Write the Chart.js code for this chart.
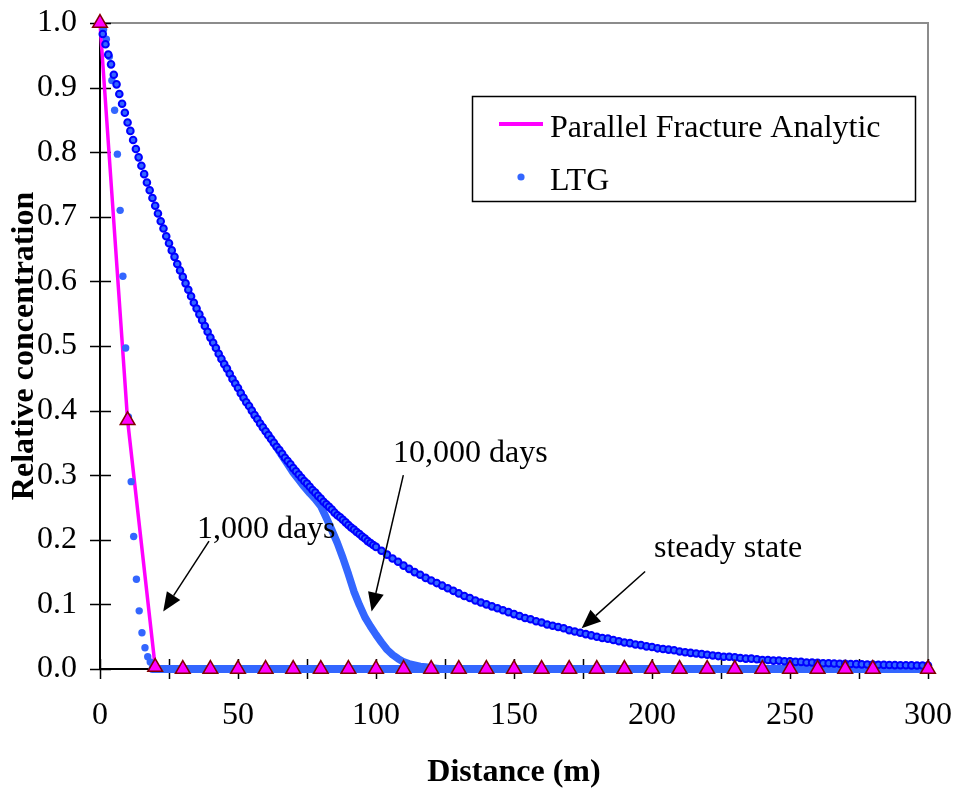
<!DOCTYPE html>
<html>
<head>
<meta charset="utf-8">
<script src="https://cdn.jsdelivr.net/npm/chart.js@4.4.1/dist/chart.umd.min.js"></script>
<style>
  html, body { margin: 0; padding: 0; background: #fff; }
  #grafico { display: block; }
</style>
</head>
<body>
<canvas id="grafico" width="957" height="793"></canvas>
<script>
/* DADOS */
// Parallel Fracture Analytic (triangles, 1,000 days)
const anaX = [0, 10, 20, 30, 40, 50, 60, 70, 80, 90, 100, 110, 120, 130, 140, 150,
  160, 170, 180, 190, 200, 210, 220, 230, 240, 250, 260, 270, 280, 300];
const anaY = [1.0, 0.385, 0.003, 0, 0, 0, 0, 0, 0, 0, 0, 0, 0, 0, 0, 0,
  0, 0, 0, 0, 0, 0, 0, 0, 0, 0, 0, 0, 0, 0];

// LTG, 1,000 days (front)
const ltg1kX = [0.3, 1.3, 2.3, 3.4, 4.3, 5.3, 6.3, 7.3, 8.3, 9.3, 10.3, 11.3, 12.2, 13.2, 14.2, 15.2, 16.3, 17.3, 18.2, 19.2];
const ltg1kY = [0.998, 0.99, 0.975, 0.948, 0.911, 0.865, 0.797, 0.710, 0.608, 0.497, 0.39, 0.29, 0.205, 0.139, 0.090, 0.056, 0.033, 0.019, 0.011, 0.005];

// LTG, concentration zero beyond the fronts
const zeroX = [19, 300];
const zeroY = [0, 0];

// LTG, 10,000 days
const ltg10kX = [60, 62, 64, 66, 68, 70, 72, 74, 76, 78, 80, 82, 84, 86, 88, 90, 92,
  94, 96, 98, 100, 102, 104, 106, 108, 110, 112, 114, 116, 118, 120, 122, 124];
const ltg10kY = [0.368, 0.356, 0.343, 0.330, 0.317, 0.304, 0.293, 0.282, 0.272, 0.263, 0.252, 0.234, 0.215, 0.195, 0.172, 0.147, 0.120,
  0.099, 0.080, 0.066, 0.053, 0.041, 0.030, 0.022, 0.016, 0.011, 0.008, 0.006, 0.004, 0.003, 0.002, 0.001, 0.0];

// LTG, steady state: every 1 m from 0 to 100 ...
const steadyNearY = [
  1.000, 0.983, 0.967, 0.951, 0.936, 0.920, 0.905, 0.890, 0.875, 0.861,
  0.846, 0.833, 0.819, 0.805, 0.792, 0.779, 0.766, 0.753, 0.741, 0.729,
  0.717, 0.705, 0.693, 0.682, 0.670, 0.659, 0.648, 0.638, 0.627, 0.617,
  0.607, 0.597, 0.587, 0.577, 0.567, 0.558, 0.549, 0.540, 0.531, 0.522,
  0.513, 0.505, 0.497, 0.488, 0.480, 0.472, 0.465, 0.457, 0.449, 0.442,
  0.435, 0.427, 0.420, 0.413, 0.407, 0.400, 0.393, 0.387, 0.380, 0.374,
  0.368, 0.362, 0.356, 0.350, 0.344, 0.339, 0.333, 0.327, 0.322, 0.317,
  0.311, 0.306, 0.301, 0.296, 0.291, 0.287, 0.282, 0.277, 0.273, 0.268,
  0.264, 0.259, 0.255, 0.251, 0.247, 0.242, 0.238, 0.235, 0.231, 0.227,
  0.223, 0.219, 0.216, 0.212, 0.209, 0.205, 0.202, 0.198, 0.195, 0.192,
  0.189
];
// ... and every 2 m from 102 to 300
const steadyFarY = [
  0.183, 0.177, 0.171, 0.166, 0.160, 0.155, 0.150, 0.146, 0.141,
  0.137, 0.133, 0.129, 0.125, 0.121, 0.117, 0.113, 0.110, 0.106, 0.103,
  0.100, 0.097, 0.094, 0.091, 0.088, 0.085, 0.082, 0.079, 0.077, 0.074,
  0.072, 0.069, 0.067, 0.065, 0.063, 0.060, 0.058, 0.056, 0.054, 0.052,
  0.050, 0.048, 0.047, 0.045, 0.043, 0.041, 0.040, 0.038, 0.037, 0.035,
  0.034, 0.032, 0.031, 0.030, 0.029, 0.027, 0.026, 0.025, 0.024, 0.023,
  0.022, 0.021, 0.020, 0.019, 0.019, 0.018, 0.017, 0.016, 0.016, 0.015,
  0.014, 0.014, 0.013, 0.013, 0.012, 0.012, 0.011, 0.011, 0.010, 0.010,
  0.0095, 0.0090, 0.0088, 0.0085, 0.0082, 0.0080, 0.0077, 0.0075, 0.0072, 0.0070,
  0.0068, 0.0066, 0.0064, 0.0062, 0.0060, 0.0058, 0.0057, 0.0056, 0.0055, 0.0054,
  0.0053
];
const steadyX = steadyNearY.map((_, i) => i).concat(steadyFarY.map((_, i) => 102 + i * 2));
const steadyY = steadyNearY.concat(steadyFarY);

// annotations (data coordinates)
const notas = [
  { text: "1,000 days", x: 35.1, y: 0.203 },
  { text: "10,000 days", x: 106.2, y: 0.320 },
  { text: "steady state", x: 200.7, y: 0.173 }
];
const setas = [
  { from: [39.5, 0.198], to: [22.9, 0.089] },
  { from: [109.9, 0.300], to: [98.4, 0.089] },
  { from: [197.5, 0.151], to: [174.5, 0.063] }
];

const pares = (xs, ys) => xs.map((x, i) => ({ x: x, y: ys[i] }));

const SERIF = "'Liberation Serif', 'Times New Roman', serif";
Chart.defaults.font.family = SERIF;
Chart.defaults.font.size = 32;
Chart.defaults.color = "#000";

/* EXTRAS: eixos, setas, legenda */
const extras = {
  id: "extras",
  beforeDatasetsDraw(chart) {
    const { ctx, chartArea: a, scales: { x, y } } = chart;
    ctx.save();
    ctx.lineCap = "butt";
    ctx.strokeStyle = "#8c8c8c";
    ctx.lineWidth = 2;
    ctx.beginPath();
    ctx.moveTo(a.left, a.top); ctx.lineTo(a.right, a.top); ctx.lineTo(a.right, a.bottom);
    ctx.stroke();
    ctx.strokeStyle = "#000";
    ctx.beginPath();
    ctx.moveTo(a.left, a.top); ctx.lineTo(a.left, a.bottom); ctx.lineTo(a.right, a.bottom);
    ctx.stroke();
    ctx.lineWidth = 1.5;
    ctx.beginPath();
    y.ticks.forEach(t => {
      const p = Math.round(y.getPixelForValue(t.value)) + 0.5;
      ctx.moveTo(a.left - 10, p); ctx.lineTo(a.left + 11, p);
    });
    x.ticks.forEach(t => {
      const p = Math.round(x.getPixelForValue(t.value)) + 0.5;
      ctx.moveTo(p, a.bottom - 10); ctx.lineTo(p, a.bottom + 10);
    });
    ctx.stroke();
    ctx.restore();
  },
  afterDraw(chart) {
    const { ctx, scales: { x, y } } = chart;
    ctx.save();
    // setas
    ctx.strokeStyle = "#000";
    ctx.fillStyle = "#000";
    ctx.lineWidth = 1.5;
    setas.forEach(s => {
      const x0 = x.getPixelForValue(s.from[0]), y0 = y.getPixelForValue(s.from[1]);
      const x1 = x.getPixelForValue(s.to[0]), y1 = y.getPixelForValue(s.to[1]);
      const ang = Math.atan2(y1 - y0, x1 - x0);
      const len = 19, half = 8;
      const bx = x1 - Math.cos(ang) * len, by = y1 - Math.sin(ang) * len;
      ctx.beginPath();
      ctx.moveTo(x0, y0); ctx.lineTo(bx, by);
      ctx.stroke();
      ctx.beginPath();
      ctx.moveTo(x1, y1);
      ctx.lineTo(bx + Math.sin(ang) * half, by - Math.cos(ang) * half);
      ctx.lineTo(bx - Math.sin(ang) * half, by + Math.cos(ang) * half);
      ctx.closePath();
      ctx.fill();
    });
    // textos
    ctx.font = "32px " + SERIF;
    ctx.textBaseline = "alphabetic";
    ctx.textAlign = "left";
    notas.forEach(n => {
      ctx.fillText(n.text, x.getPixelForValue(n.x), y.getPixelForValue(n.y));
    });
    // legenda
    ctx.fillStyle = "#fff";
    ctx.fillRect(472.5, 96.5, 443, 105);
    ctx.strokeStyle = "#000";
    ctx.lineWidth = 1.5;
    ctx.strokeRect(472.5, 96.5, 443, 105);
    ctx.strokeStyle = "#ff00ff";
    ctx.lineWidth = 4;
    ctx.beginPath();
    ctx.moveTo(499, 124); ctx.lineTo(543, 124);
    ctx.stroke();
    ctx.fillStyle = "#3366ff";
    ctx.beginPath();
    ctx.arc(521, 177, 3.6, 0, Math.PI * 2);
    ctx.fill();
    ctx.fillStyle = "#000";
    ctx.fillText("Parallel Fracture Analytic", 550, 137);
    ctx.fillText("LTG", 550, 190);
    ctx.restore();
  }
};

/* GRÁFICO */
new Chart(document.getElementById("grafico"), {
  type: "scatter",
  data: {
    datasets: [
      {
        label: "Parallel Fracture Analytic",
        data: pares(anaX, anaY),
        showLine: false,
        pointStyle: "triangle",
        pointRadius: 8.5,
        pointBackgroundColor: "#ff00ff",
        pointBorderColor: "#800000",
        pointBorderWidth: 1.5,
        order: 0,
        clip: false
      },
      {
        label: "LTG steady state",
        data: pares(steadyX, steadyY),
        showLine: false,
        pointRadius: 3.3,
        pointBackgroundColor: "#3366ff",
        pointBorderColor: "#0000ff",
        pointBorderWidth: 2,
        order: 1,
        clip: false
      },
      {
        label: "LTG 1,000 days",
        data: pares(ltg1kX, ltg1kY),
        showLine: false,
        pointRadius: 3.7,
        pointBackgroundColor: "#3366ff",
        pointBorderWidth: 0,
        order: 2,
        clip: false
      },
      {
        label: "LTG 10,000 days",
        data: pares(ltg10kX, ltg10kY),
        showLine: true,
        borderColor: "#3366ff",
        borderWidth: 7.5,
        borderCapStyle: "round",
        borderJoinStyle: "round",
        pointRadius: 0,
        order: 3,
        clip: false
      },
      {
        label: "LTG zero",
        data: pares(zeroX, zeroY),
        showLine: true,
        borderColor: "#3366ff",
        borderWidth: 8,
        borderCapStyle: "round",
        pointRadius: 0,
        order: 3,
        clip: false
      },
      {
        label: "Parallel Fracture Analytic line",
        data: pares(anaX, anaY),
        showLine: true,
        borderColor: "#ff00ff",
        borderWidth: 3.5,
        pointRadius: 0,
        order: 5,
        clip: false
      }
    ]
  },
  options: {
    responsive: false,
    animation: false,
    layout: { padding: { left: 0, top: 23, right: 29, bottom: 0 } },
    plugins: { legend: { display: false }, tooltip: { enabled: false } },
    scales: {
      x: {
        type: "linear",
        min: 0, max: 300,
        grid: { display: false, drawTicks: false },
        border: { display: false },
        ticks: {
          stepSize: 25, autoSkip: false, maxRotation: 0, padding: 27,
          callback: v => (v % 50 === 0 ? String(v) : "")
        },
        title: { display: true, text: "Distance (m)", font: { size: 32, weight: "bold" }, padding: { top: 0, bottom: 1 } },
        afterFit: s => { s.height = 124; s.paddingLeft = 0; s.paddingRight = 0; }
      },
      y: {
        min: 0, max: 1,
        grid: { display: false, drawTicks: false },
        border: { display: false },
        ticks: { stepSize: 0.1, padding: 23, callback: v => v.toFixed(1) },
        title: { display: true, text: "Relative concentration", font: { size: 32, weight: "bold" }, padding: { top: 6, bottom: 0 } },
        afterFit: s => { s.width = 100; s.paddingTop = 0; s.paddingBottom = 0; }
      }
    }
  },
  plugins: [extras]
});
</script>
</body>
</html>
